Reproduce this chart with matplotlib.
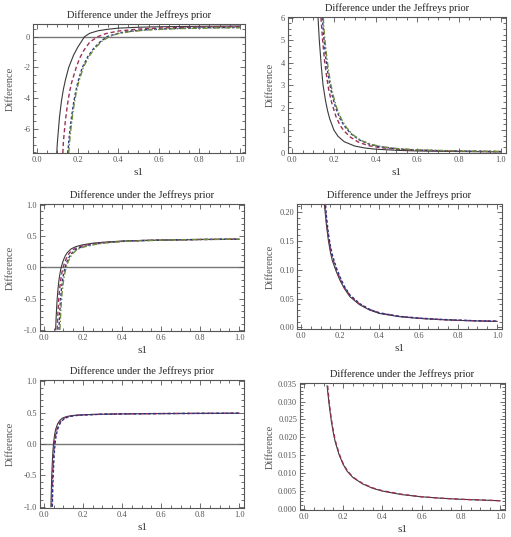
import matplotlib
matplotlib.use('Agg')
import matplotlib.pyplot as plt
from matplotlib.ticker import MultipleLocator, FormatStrFormatter

plt.rcParams['font.family'] = ['Liberation Serif', 'DejaVu Serif']

# ---- panel 1 (top left) ----
p1_s_a = [0.097, 0.10, 0.11, 0.12, 0.13, 0.14, 0.156, 0.18, 0.20, 0.234, 0.26, 0.30, 0.35, 0.40, 0.50, 0.60, 0.80, 1.0]
p1_y_a = [-7.55, -6.9, -5.3, -4.2, -3.4, -2.8, -2.0, -1.2, -0.7, 0.0, 0.22, 0.38, 0.48, 0.55, 0.61, 0.64, 0.67, 0.69]
p1_s_b = [0.127, 0.13, 0.14, 0.15, 0.16, 0.17, 0.193, 0.21, 0.23, 0.26, 0.30, 0.34, 0.40, 0.50, 0.60, 0.80, 1.0]
p1_y_b = [-7.55, -6.8, -5.4, -4.4, -3.6, -3.0, -2.0, -1.4, -0.9, -0.35, 0.0, 0.2, 0.36, 0.49, 0.56, 0.62, 0.65]
p1_s_c = [0.152, 0.155, 0.16, 0.17, 0.18, 0.19, 0.20, 0.223, 0.25, 0.28, 0.31, 0.345, 0.40, 0.45, 0.55, 0.70, 0.85, 1.0]
p1_y_c = [-7.55, -7.0, -6.3, -5.2, -4.3, -3.6, -3.0, -2.0, -1.3, -0.75, -0.35, 0.0, 0.22, 0.34, 0.46, 0.54, 0.58, 0.6]
p1_s_d = [0.156, 0.16, 0.165, 0.175, 0.185, 0.195, 0.205, 0.228, 0.255, 0.285, 0.32, 0.355, 0.40, 0.46, 0.55, 0.70, 0.85, 1.0]
p1_y_d = [-7.55, -6.9, -6.2, -5.1, -4.2, -3.5, -2.95, -2.0, -1.3, -0.75, -0.3, 0.0, 0.2, 0.33, 0.44, 0.52, 0.56, 0.58]

# ---- panel 2 (top right) ----
p2_s_a = [0.124, 0.13, 0.14, 0.148, 0.16, 0.17, 0.18, 0.20, 0.22, 0.25, 0.30, 0.35, 0.40, 0.50, 0.60, 0.80, 1.0]
p2_y_a = [6.0, 5.0, 3.8, 3.0, 2.3, 1.85, 1.5, 1.0, 0.72, 0.48, 0.29, 0.2, 0.15, 0.1, 0.07, 0.045, 0.03]
p2_s_b = [0.138, 0.145, 0.155, 0.165, 0.175, 0.19, 0.21, 0.23, 0.25, 0.28, 0.32, 0.37, 0.42, 0.50, 0.60, 0.80, 1.0]
p2_y_b = [6.0, 5.1, 4.1, 3.4, 2.8, 2.2, 1.6, 1.2, 0.95, 0.68, 0.45, 0.3, 0.22, 0.15, 0.1, 0.06, 0.04]
p2_s_c = [0.145, 0.15, 0.16, 0.17, 0.18, 0.19, 0.21, 0.23, 0.25, 0.28, 0.32, 0.37, 0.42, 0.50, 0.60, 0.80, 1.0]
p2_y_c = [6.0, 5.3, 4.3, 3.6, 3.05, 2.6, 1.95, 1.5, 1.18, 0.85, 0.57, 0.37, 0.26, 0.17, 0.11, 0.065, 0.045]
p2_s_d = [0.149, 0.155, 0.165, 0.175, 0.185, 0.195, 0.215, 0.235, 0.26, 0.29, 0.33, 0.38, 0.43, 0.50, 0.60, 0.80, 1.0]
p2_y_d = [6.0, 5.2, 4.3, 3.6, 3.05, 2.6, 1.95, 1.5, 1.12, 0.8, 0.54, 0.36, 0.26, 0.18, 0.12, 0.07, 0.05]

# ---- panel 3 (middle left) ----
p3_s_a = [0.060, 0.063, 0.067, 0.072, 0.078, 0.085, 0.09, 0.10, 0.11, 0.12, 0.14, 0.16, 0.18, 0.20, 0.25, 0.30, 0.40, 0.50, 0.60, 0.80, 1.0]
p3_y_a = [-1.0, -0.78, -0.55, -0.35, -0.18, -0.05, 0.02, 0.12, 0.19, 0.24, 0.30, 0.33, 0.35, 0.365, 0.39, 0.405, 0.425, 0.435, 0.44, 0.45, 0.455]
p3_s_b = [0.068, 0.071, 0.075, 0.080, 0.086, 0.093, 0.10, 0.11, 0.12, 0.13, 0.15, 0.17, 0.19, 0.21, 0.25, 0.30, 0.40, 0.50, 0.60, 0.80, 1.0]
p3_y_b = [-1.0, -0.78, -0.55, -0.36, -0.2, -0.07, 0.02, 0.11, 0.18, 0.23, 0.29, 0.32, 0.34, 0.355, 0.38, 0.4, 0.42, 0.432, 0.44, 0.45, 0.455]
p3_s_c = [0.077, 0.080, 0.084, 0.089, 0.095, 0.102, 0.11, 0.12, 0.13, 0.14, 0.16, 0.18, 0.20, 0.22, 0.26, 0.30, 0.40, 0.50, 0.60, 0.80, 1.0]
p3_y_c = [-1.0, -0.78, -0.56, -0.37, -0.21, -0.08, 0.02, 0.11, 0.17, 0.22, 0.28, 0.315, 0.335, 0.35, 0.375, 0.395, 0.42, 0.432, 0.44, 0.45, 0.455]
p3_s_d = [0.082, 0.085, 0.089, 0.094, 0.100, 0.107, 0.115, 0.125, 0.135, 0.145, 0.165, 0.185, 0.205, 0.225, 0.26, 0.30, 0.40, 0.50, 0.60, 0.80, 1.0]
p3_y_d = [-1.0, -0.79, -0.57, -0.38, -0.22, -0.09, 0.01, 0.1, 0.165, 0.215, 0.275, 0.31, 0.33, 0.345, 0.37, 0.39, 0.418, 0.43, 0.44, 0.45, 0.455]

# ---- panel 4 (middle right) ----
p4_s_a = [0.120, 0.13, 0.14, 0.15, 0.16, 0.18, 0.20, 0.22, 0.25, 0.30, 0.35, 0.40, 0.50, 0.60, 0.70, 0.80, 0.90, 1.0]
p4_y_a = [0.212, 0.178, 0.151, 0.131, 0.116, 0.097, 0.081, 0.068, 0.053, 0.039, 0.030, 0.024, 0.0185, 0.0155, 0.0135, 0.012, 0.011, 0.0102]
p4_s_b = [0.123, 0.13, 0.14, 0.15, 0.16, 0.18, 0.20, 0.22, 0.25, 0.30, 0.35, 0.40, 0.50, 0.60, 0.70, 0.80, 0.90, 1.0]
p4_y_b = [0.212, 0.185, 0.157, 0.137, 0.121, 0.101, 0.084, 0.070, 0.055, 0.040, 0.031, 0.025, 0.019, 0.0158, 0.0137, 0.0122, 0.0112, 0.0104]
p4_s_c = [0.126, 0.13, 0.14, 0.15, 0.16, 0.18, 0.20, 0.22, 0.25, 0.30, 0.35, 0.40, 0.50, 0.60, 0.70, 0.80, 0.90, 1.0]
p4_y_c = [0.212, 0.193, 0.163, 0.142, 0.126, 0.104, 0.087, 0.072, 0.056, 0.041, 0.031, 0.025, 0.019, 0.016, 0.0139, 0.0124, 0.0113, 0.0105]

# ---- panel 5 (bottom left) ----
p5_s_a = [0.036, 0.038, 0.040, 0.043, 0.046, 0.050, 0.055, 0.060, 0.070, 0.080, 0.090, 0.10, 0.12, 0.15, 0.20, 0.30, 0.40, 0.60, 0.80, 1.0]
p5_y_a = [-1.0, -0.75, -0.52, -0.3, -0.12, 0.03, 0.15, 0.23, 0.32, 0.37, 0.40, 0.42, 0.44, 0.455, 0.465, 0.475, 0.48, 0.485, 0.488, 0.49]
p5_s_b = [0.040, 0.042, 0.044, 0.047, 0.050, 0.054, 0.059, 0.065, 0.075, 0.085, 0.095, 0.105, 0.125, 0.155, 0.20, 0.30, 0.40, 0.60, 0.80, 1.0]
p5_y_b = [-1.0, -0.76, -0.54, -0.32, -0.14, 0.01, 0.13, 0.22, 0.31, 0.36, 0.39, 0.415, 0.44, 0.455, 0.465, 0.475, 0.48, 0.485, 0.488, 0.49]
p5_s_c = [0.043, 0.045, 0.047, 0.050, 0.053, 0.057, 0.062, 0.068, 0.078, 0.088, 0.098, 0.108, 0.128, 0.158, 0.20, 0.30, 0.40, 0.60, 0.80, 1.0]
p5_y_c = [-1.0, -0.77, -0.55, -0.33, -0.15, 0.0, 0.12, 0.21, 0.30, 0.355, 0.385, 0.41, 0.435, 0.452, 0.463, 0.474, 0.48, 0.485, 0.488, 0.49]

# ---- panel 6 (bottom right) ----
p6_s_a = [0.118, 0.13, 0.14, 0.15, 0.16, 0.18, 0.20, 0.22, 0.25, 0.30, 0.35, 0.40, 0.50, 0.60, 0.70, 0.80, 0.90, 1.0]
p6_y_a = [0.0344, 0.0285, 0.0244, 0.0212, 0.0186, 0.0150, 0.0124, 0.0105, 0.0087, 0.0069, 0.0057, 0.0049, 0.0039, 0.0033, 0.0029, 0.0026, 0.0024, 0.0022]
p6_s_b = [0.121, 0.13, 0.14, 0.15, 0.16, 0.18, 0.20, 0.22, 0.25, 0.30, 0.35, 0.40, 0.50, 0.60, 0.70, 0.80, 0.90, 1.0]
p6_y_b = [0.0344, 0.0292, 0.0250, 0.0217, 0.0190, 0.0153, 0.0126, 0.0107, 0.0088, 0.0070, 0.0058, 0.0050, 0.0040, 0.0033, 0.0029, 0.0026, 0.0024, 0.0022]

titulo = 'Difference under the Jeffreys prior'
rotulo_y = 'Difference'
rotulo_x = 's1'

# estilos das curvas (preto, vermelho tracejado, azul tracejado, verde traco-ponto)
estilos = [
    dict(color='#3a3a3a', lw=0.8, ls='-'),
    dict(color='#9b2f55', lw=1.0, ls=(0, (3, 2))),
    dict(color='#2a3585', lw=1.0, ls=(0, (2, 1.5))),
    dict(color='#6f8a3a', lw=1.0, ls=(0, (4, 1.5, 1, 1.5))),
]

paineis = [
    # (pos, curvas, ylim, y major, y minor, formato, linha zero, label x)
    ([33/511, 1-153/537, 212/511, 129/537],
     [(p1_s_a, p1_y_a), (p1_s_b, p1_y_b), (p1_s_c, p1_y_c), (p1_s_d, p1_y_d)],
     (-7.55, 0.82), 2, 0.5, '%d', True, -0.085),
    ([288/511, 1-153/537, 218/511, 136/537],
     [(p2_s_a, p2_y_a), (p2_s_b, p2_y_b), (p2_s_c, p2_y_c), (p2_s_d, p2_y_d)],
     (-0.02, 6.03), 1, 0.25, '%d', False, -0.06),
    ([40/511, 1-331/537, 204/511, 127/537],
     [(p3_s_a, p3_y_a), (p3_s_b, p3_y_b), (p3_s_c, p3_y_c), (p3_s_d, p3_y_d)],
     (-1.02, 1.02), 0.5, 0.1, '%.1f', True, -0.123),
    ([297/511, 1-329/537, 205/511, 125/537],
     [(p4_s_a, p4_y_a), (p4_s_b, p4_y_b), (p4_s_c, p4_y_c)],
     (-0.003, 0.2143), 0.05, 0.01, '%.2f', False, -0.107),
    ([40/511, 1-508/537, 204/511, 128/537],
     [(p5_s_a, p5_y_a), (p5_s_b, p5_y_b), (p5_s_c, p5_y_c)],
     (-1.02, 1.02), 0.5, 0.1, '%.1f', True, -0.123),
    ([300/511, 1-510/537, 205/511, 127/537],
     [(p6_s_a, p6_y_a), (p6_s_b, p6_y_b)],
     (-0.0004, 0.0352), 0.005, 0.001, '%.3f', False, -0.122),
]

fig = plt.figure(figsize=(5.11, 5.37), dpi=100)

for pos, curvas, ylim, ymaj, ymin, fmt, zero, ylab_x in paineis:
    ax = fig.add_axes(pos)
    if zero:
        ax.axhline(0, color='#777777', lw=1.0, zorder=1)
    for (s, y), est in zip(curvas, estilos):
        ax.plot(s, y, **est, zorder=2)
    ax.set_xlim(-0.02, 1.025)
    ax.set_ylim(*ylim)
    ax.xaxis.set_major_locator(MultipleLocator(0.2))
    ax.xaxis.set_minor_locator(MultipleLocator(0.05))
    ax.xaxis.set_major_formatter(FormatStrFormatter('%.1f'))
    ax.yaxis.set_major_locator(MultipleLocator(ymaj))
    ax.yaxis.set_minor_locator(MultipleLocator(ymin))
    ax.yaxis.set_major_formatter(FormatStrFormatter(fmt))
    ax.tick_params(which='both', direction='in', top=True, right=True,
                   labelsize=6, labelcolor='#555555', color='#555555', width=0.6, pad=2)
    ax.tick_params(which='major', length=3.5)
    ax.tick_params(which='minor', length=2)
    for sp in ax.spines.values():
        sp.set_color('#555555')
        sp.set_linewidth(0.8)
    ax.set_title(titulo, fontsize=7.5, pad=4, color='#222222')
    ax.set_xlabel(rotulo_x, fontsize=8, color='#333333', labelpad=3)
    ax.set_ylabel(rotulo_y, fontsize=7.5, color='#555555')
    ax.yaxis.set_label_coords(ylab_x, 0.5)

fig.savefig('out.png', dpi=100)
